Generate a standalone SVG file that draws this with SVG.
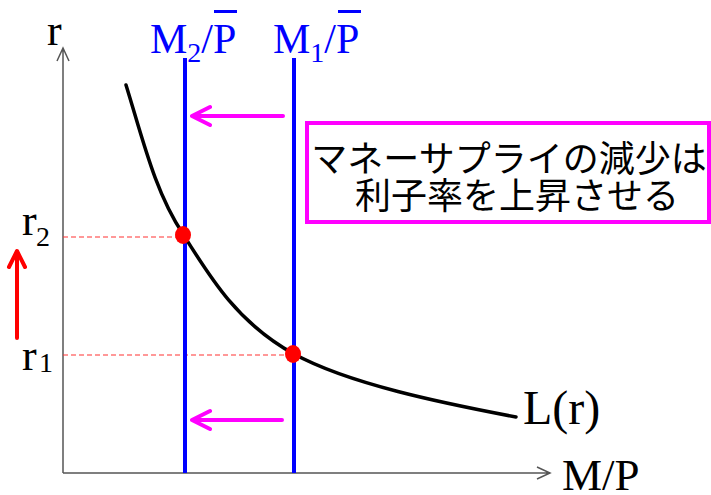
<svg xmlns="http://www.w3.org/2000/svg" width="711" height="495" viewBox="0 0 711 495">
<style>
.ser{font-family:"Liberation Serif","Times New Roman",serif;}
.blue{fill:#0000ff;}
.axis{stroke:#555;stroke-width:1.5;fill:none;}
.mline{stroke:#0000ff;stroke-width:4;fill:none;}
.mag{stroke:#ff00ff;stroke-width:4;fill:none;stroke-linecap:round;stroke-linejoin:round;}
.dash{stroke:#ff3333;stroke-width:1.2;stroke-dasharray:5,3;fill:none;}
.jp{font-family:"Noto Sans CJK JP","Noto Sans",sans-serif;font-size:36px;fill:#000;}
</style>
<rect width="711" height="495" fill="#fff"/>
<g id="connectors">
<path class="axis" d="M63,473 V48 M57,61 L63,48 L69,61"/>
<path class="axis" d="M63,473 H550 M537,467 L550,473 L537,479"/>
<path class="dash" d="M63,237 H183"/>
<path class="dash" d="M63,355 H293"/>
<path class="mline" d="M185,58 V473"/>
<path class="mline" d="M294,58 V473"/>
<path d="M126,85 C143,140 155,192 183,234 C211,279 238,323 294,354 C349,384 442,403 516,417" fill="none" stroke="#000" stroke-width="3.5" stroke-linecap="round"/>
<path class="mag" d="M283,116 H192 M210,107 L192,116 L210,125"/>
<path class="mag" d="M282,420 H192 M210,411 L192,420 L210,429"/>
<path d="M17,338 V252 M9,267 L17,251 L25,267" fill="none" stroke="#ff0000" stroke-width="4" stroke-linecap="round" stroke-linejoin="round"/>
</g>
<g id="dot2"><ellipse cx="183" cy="235" rx="8" ry="9" fill="#ff0000"/></g>
<g id="dot1"><ellipse cx="293" cy="354" rx="8" ry="9" fill="#ff0000"/></g>
<g id="axis-labels" class="ser">
<text x="47" y="45" font-size="44">r</text>
<text x="22" y="235" font-size="44">r</text>
<text x="36" y="246" font-size="28">2</text>
<text x="22" y="370" font-size="44">r</text>
<text x="39" y="372" font-size="28">1</text>
<text x="523" y="424" font-size="48">L(r)</text>
<text x="562" y="490" font-size="45">M/P</text>
</g>
<g id="m2-label" class="ser blue">
<text x="150" y="53" font-size="42">M<tspan font-size="28" dy="9">2</tspan><tspan dy="-9">/P</tspan></text>
<rect x="214" y="10" width="23" height="3"/>
</g>
<g id="m1-label" class="ser blue">
<text x="273" y="53" font-size="42">M<tspan font-size="28" dy="9">1</tspan><tspan dy="-9">/P</tspan></text>
<rect x="338" y="10" width="23" height="3"/>
</g>
<g id="note">
<rect x="307" y="123" width="402" height="99" fill="#fff" stroke="#ff00ff" stroke-width="4"/>
<text class="jp" x="509" y="172" text-anchor="middle">マネーサプライの減少は</text>
<text class="jp" x="517" y="209" text-anchor="middle">利子率を上昇させる</text>
</g>
</svg>
